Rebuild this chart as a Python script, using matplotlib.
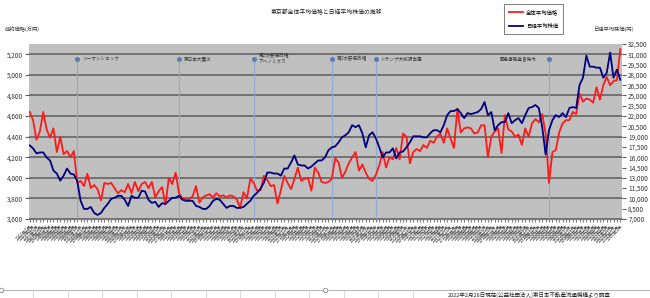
import matplotlib
matplotlib.use("Agg")
import matplotlib.pyplot as plt
import matplotlib.transforms as mtransforms
from matplotlib.lines import Line2D
from matplotlib.ticker import FuncFormatter, FixedLocator
import numpy as np

plt.rcParams["font.family"] = ["Noto Sans CJK JP", "DejaVu Sans"]

START_YEAR, START_MONTH = 2007, 7

# 東京都全体平均価格 (万円), monthly
price = [
    4640, 4560, 4370, 4450, 4640, 4470, 4390, 4480, 4250, 4400, 4230, 4260, 4200, 4260,
    3950, 3970, 3920, 4040, 3900, 3930, 3890, 3780, 3950, 3940, 3950, 3900, 3850, 3880,
    3860, 3940, 3850, 3960, 3870, 3940, 3960, 3900, 3960, 3810, 3870, 3910, 3740, 4000,
    3940, 4050, 3850, 3800, 3790, 3790, 3820, 3920, 3760, 3810, 3830, 3840, 3810, 3850,
    3820, 3830, 3810, 3830, 3820, 3790, 3710, 3860, 3800, 3990, 3950, 3875, 3880, 4020,
    3980, 3920, 3930, 3750, 3880, 4020, 3950, 3890, 3990, 4100, 3970, 3990, 4000, 3875,
    4100, 4050, 3960, 3950, 3960, 3990, 4190, 4150, 4000, 4060, 4140, 4200, 4250, 4070,
    4130, 4050, 3990, 3970, 4030, 4120, 4250, 4100, 4200, 4180, 4290, 4180, 4430, 4400,
    4140, 4250, 4280, 4260, 4320, 4290, 4360, 4340, 4400, 4430, 4340, 4480, 4380, 4290,
    4670, 4440, 4480, 4490, 4480, 4430, 4440, 4510, 4510, 4200, 4400, 4450, 4480, 4240,
    4610, 4470, 4450, 4400, 4420, 4320, 4480, 4400, 4530, 4570, 4540, 4620, 4430, 3950,
    4250, 4270, 4440, 4530, 4560, 4560, 4640, 4620, 4820, 4740, 4770, 4760, 4730, 4880,
    4760, 4900, 4980, 4900, 4940, 4950, 5250,
]

# 日経平均株価 (円), monthly
nikkei = [
    17730, 17290, 16560, 16700, 16700, 15970, 15530, 14060, 13620, 12590, 13320, 14350,
    13620, 13480, 12590, 9650, 8470, 8470, 8760, 7880, 7590, 7880, 8620, 9200, 9940,
    10090, 10380, 10380, 9800, 8900, 10380, 10090, 10090, 11120, 11000, 9800, 9350, 9500,
    8760, 9300, 9200, 9650, 10090, 10090, 10380, 9800, 9650, 9650, 9650, 8900, 8760, 8470,
    8470, 8900, 9650, 9940, 9800, 9200, 8620, 8900, 8900, 8620, 8620, 8760, 9200, 9650,
    10380, 10820, 11400, 12300, 13770, 13770, 13620, 13620, 13320, 14350, 14350, 15230,
    16260, 14940, 14800, 14790, 14350, 14650, 15090, 15530, 15530, 15970, 17000, 17440,
    17580, 18170, 18900, 19200, 19640, 20670, 20380, 20670, 19500, 17440, 19200, 19640,
    18760, 17440, 15970, 16700, 16700, 17290, 15820, 16700, 16850, 17440, 18170, 19050,
    19050, 19050, 18900, 18900, 19500, 19940, 19940, 19640, 20670, 22140, 22730, 22730,
    23020, 22430, 21700, 22430, 22280, 22430, 22580, 23020, 24050, 22140, 22580, 19940,
    20670, 21110, 21110, 22430, 20960, 21400, 21700, 20960, 22140, 23170, 23320, 23610,
    23170, 20380, 16400, 19940, 21400, 22140, 21850, 22430, 21850, 23170, 23320, 23170,
    26550, 27580, 30800, 29200, 29200, 29050, 29050, 27580, 28300, 31250, 27580, 28760,
    27290,
]

months = [
    f"{START_YEAR + (START_MONTH - 1 + i) // 12}年{(START_MONTH - 1 + i) % 12 + 1}月"
    for i in range(len(price))
]

events = ["リーマンショック", "東日本大震災", "第2次安倍政権\nアベノミクス",
          "第3次安倍政権", "トランプ大統領当選", "緊急事態宣言発令"]
event_months = ["2008年9月", "2011年3月", "2013年1月", "2014年12月", "2016年1月", "2020年4月"]

title = "東京都全体平均価格と日経平均株価の推移"
source = "2022年2月26日現在(公益社団法人)東日本不動産流通機構より調査"

RED = "#ff1a1a"
NAVY = "#000080"
GRID = "#5c5c5c"
EVENT = "#8fa9cf"
DOT = "#5b7fb5"

fig = plt.figure(figsize=(6.5, 2.98), dpi=100)
ax = fig.add_axes([29 / 650, 1 - 219 / 298, (622 - 29) / 650, (219 - 44) / 298])
ax2 = ax.twinx()

x = np.arange(len(price))
ax.set_facecolor("#c0c0c0")
ax.set_xlim(-0.2, len(price) - 0.5)
ax.set_ylim(3600, 5300)
ax.yaxis.set_major_locator(FixedLocator(np.arange(3600, 5201, 200)))
ax.yaxis.set_major_formatter(FuncFormatter(lambda v, p: f"{v:,.0f}"))
ax.yaxis.grid(True, color=GRID, lw=1.1)
ax.set_axisbelow(True)

ax2.set_ylim(7000, 32500)
ax2.yaxis.set_major_locator(FixedLocator(np.arange(7000, 32501, 1500)))
ax2.yaxis.set_major_formatter(FuncFormatter(lambda v, p: f"{v:,.0f}"))

for a in (ax, ax2):
    for s in a.spines.values():
        s.set_visible(False)
ax.spines["bottom"].set_visible(True)
ax.spines["bottom"].set_color("#7a7a7a")

ax.tick_params(axis="y", labelsize=4.6, length=3, color=GRID, pad=1.5, labelcolor="#333333")
ax2.tick_params(axis="y", labelsize=4.6, length=3, color=GRID, pad=1.5, labelcolor="#333333")
ax.set_xticks(x)
ax.set_xticklabels(months, rotation=45, ha="right", rotation_mode="anchor",
                   fontsize=3.1, color="#444444")
ax.tick_params(axis="x", length=2, color="#7a7a7a", pad=1.5)

# event markers
trans = mtransforms.blended_transform_factory(ax.transData, ax.transAxes)
dot_y = 0.915
for name, m in zip(events, event_months):
    xi = months.index(m)
    ax.plot([xi, xi], [0, dot_y], transform=trans, color=EVENT, lw=0.8, zorder=2)
    ax.plot([xi], [dot_y], "o", transform=trans, color=DOT, ms=2.6, zorder=3, clip_on=False)
    if m == "2020年4月":
        ax.text(xi - 3.5, dot_y, name, transform=trans, fontsize=3.3, ha="right",
                va="center", color="#333333")
    elif "\n" in name:
        ax.text(xi + 1.5, dot_y + 0.035, name, transform=trans, fontsize=3.3, ha="left",
                va="top", color="#333333", linespacing=1.3)
    else:
        ax.text(xi + 1.5, dot_y, name, transform=trans, fontsize=3.3, ha="left",
                va="center", color="#333333")

l1, = ax.plot(x, price, color=RED, lw=1.3, zorder=4)
l2, = ax2.plot(x, nikkei, color=NAVY, lw=1.3, zorder=5)

fig.text(327 / 650, 1 - 12 / 298, title, fontsize=4.2, ha="center", va="center", color="#222222")
fig.text(5 / 650, 1 - 29 / 298, "成約価格(万円)", fontsize=3.8, ha="left", va="center", color="#333333")
fig.text(593 / 650, 1 - 29 / 298, "日経平均株価(円)", fontsize=3.8, ha="left", va="center", color="#333333")

leg = fig.legend([l1, l2], ["全体平均価格", "日経平均株価"], loc="center",
                 bbox_to_anchor=(533.5 / 650, 1 - 19 / 298), fontsize=3.9, frameon=True,
                 fancybox=False, edgecolor="#444444", handlelength=2.6, labelspacing=1.7,
                 borderpad=1.0, handletextpad=0.5, borderaxespad=0)
leg.get_frame().set_linewidth(0.6)

# spreadsheet strip at the bottom
strip_y = 1 - 290 / 298
fig.add_artist(Line2D([0, 1], [strip_y, strip_y], transform=fig.transFigure, color="#b8b8b8", lw=0.8))
for cx in [0.5 / 650, 325 / 650]:
    fig.add_artist(Line2D([cx], [strip_y], transform=fig.transFigure, marker="o", ms=3.2,
                          mfc="white", mec="#8a8a8a", mew=0.6))
for cx in np.arange(33, 420, 34.5):
    fig.add_artist(Line2D([cx / 650, cx / 650], [0, strip_y], transform=fig.transFigure,
                          color="#d0d0d0", lw=0.6))
fig.text(448 / 650, 1 - 294.5 / 298, source, fontsize=4.0, ha="left", va="center", color="#222222")

fig.savefig("out.png", dpi=100)
